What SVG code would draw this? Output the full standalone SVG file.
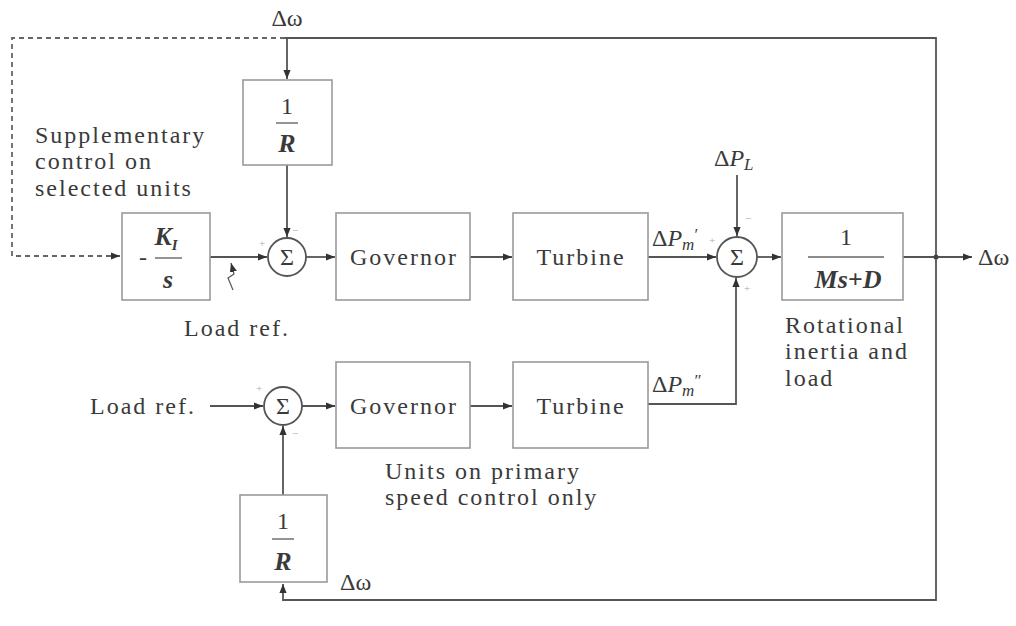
<svg xmlns="http://www.w3.org/2000/svg" width="1016" height="626" viewBox="0 0 1016 626">
<defs>
<marker id="ar" viewBox="0 0 10 10" refX="10" refY="5" markerWidth="9" markerHeight="9" markerUnits="userSpaceOnUse" orient="auto">
<path d="M0,1 L10,5 L0,9 z" fill="#333"/>
</marker>
</defs>
<style>
text{font-family:"Liberation Serif","Times New Roman",serif;fill:#3a3a3a;font-size:24px}
.w{letter-spacing:2px}
.box{fill:#fff;stroke:#9a9a9a;stroke-width:1.6}
.sum{fill:#fff;stroke:#555;stroke-width:1.8}
.ln{fill:none;stroke:#555;stroke-width:1.8}
.dash{fill:none;stroke:#666;stroke-width:1.8;stroke-dasharray:5,4}
.c{text-anchor:middle}
.it{font-style:italic;font-weight:bold;font-size:26px}
.sg{font-size:11px;fill:#aaa}
.fr{stroke:#666;stroke-width:1.4}
</style>
<rect width="1016" height="626" fill="#fff"/>

<g id="connectors">
<path class="dash" d="M285,38 H12 V256 H120" marker-end="url(#ar)"/>
<path class="ln" d="M285,38 H936 V600 H283 V584" marker-end="url(#ar)"/>
<path class="ln" d="M287,38 V79" marker-end="url(#ar)"/>
<path class="ln" d="M287,165 V237" marker-end="url(#ar)"/>
<path class="ln" d="M210,257 H267" marker-end="url(#ar)"/>
<path class="ln" d="M233,290 L228,278 L234,274 L231,263" marker-end="url(#ar)" style="stroke-width:1.2"/>
<path class="ln" d="M306,257 H335" marker-end="url(#ar)"/>
<path class="ln" d="M470,257 H512" marker-end="url(#ar)"/>
<path class="ln" d="M648,257 H716" marker-end="url(#ar)"/>
<path class="ln" d="M737,175 V236" marker-end="url(#ar)"/>
<path class="ln" d="M757,257 H781" marker-end="url(#ar)"/>
<path class="ln" d="M903,257 H972" marker-end="url(#ar)"/>
<circle cx="936" cy="257" r="2.5" fill="#444"/>
<path class="ln" d="M648,404 H736 V278" marker-end="url(#ar)"/>
<path class="ln" d="M210,406 H263" marker-end="url(#ar)"/>
<path class="ln" d="M302,406 H335" marker-end="url(#ar)"/>
<path class="ln" d="M470,406 H512" marker-end="url(#ar)"/>
<path class="ln" d="M283,495 V426" marker-end="url(#ar)"/>
</g>

<g id="lbl-dw-top"><text x="287" y="26" class="c" font-size="25">Δω</text></g>
<g id="lbl-supp"><text x="35" y="143" class="w">Supplementary</text><text x="35" y="169" class="w">control on</text><text x="35" y="196" class="w">selected units</text></g>

<g id="R1"><rect class="box" x="243" y="80" width="89" height="85"/>
<text x="287" y="114" class="c" font-size="26">1</text><line class="fr" x1="276" y1="123" x2="298" y2="123"/><text x="287" y="152" class="c it">R</text></g>

<g id="KI"><rect class="box" x="122" y="213" width="88" height="87"/>
<text x="166" y="245" class="c it">K<tspan font-size="15" dy="5">I</tspan></text>
<line class="fr" x1="155" y1="258" x2="182" y2="258"/><text x="143" y="265" class="c">-</text>
<text x="168" y="288" class="c it">s</text></g>

<g id="sum1"><circle class="sum" cx="287" cy="257" r="19"/><text x="287" y="265" class="c">Σ</text>
<text x="259" y="247" class="sg">+</text><text x="292" y="234" class="sg">−</text></g>

<g id="loadref1"><text x="184" y="336" class="w">Load ref.</text></g>

<g id="gov1"><rect class="box" x="336" y="213" width="134" height="87"/><text x="404" y="265" class="c w">Governor</text></g>
<g id="tur1"><rect class="box" x="513" y="213" width="135" height="87"/><text x="581" y="265" class="c w">Turbine</text></g>

<g id="lbl-pm1"><text x="652" y="246" font-size="25">Δ<tspan font-style="italic">P</tspan><tspan font-style="italic" font-size="17" dy="4">m</tspan><tspan font-size="17" dy="-10">′</tspan></text></g>
<g id="lbl-pl"><text x="714" y="166" font-size="25">Δ<tspan font-style="italic">P</tspan><tspan font-style="italic" font-size="17" dy="4">L</tspan></text></g>

<g id="sum2"><circle class="sum" cx="737" cy="257" r="20"/><text x="737" y="265" class="c">Σ</text>
<text x="745" y="222" class="sg">−</text><text x="709" y="244" class="sg">+</text><text x="744" y="292" class="sg">+</text></g>

<g id="plant"><rect class="box" x="782" y="213" width="121" height="87"/>
<text x="846" y="245" class="c" font-size="26">1</text><line class="fr" x1="808" y1="257" x2="884" y2="257"/>
<text x="848" y="288" class="c it" font-size="27">Ms+D</text></g>

<g id="lbl-dw-out"><text x="978" y="265" font-size="25">Δω</text></g>
<g id="lbl-rot"><text x="785" y="333" class="w">Rotational</text><text x="785" y="359" class="w">inertia and</text><text x="785" y="386" class="w">load</text></g>

<g id="loadref2"><text x="90" y="414" class="w">Load ref.</text></g>
<g id="sum3"><circle class="sum" cx="283" cy="406" r="19"/><text x="283" y="414" class="c">Σ</text>
<text x="256" y="392" class="sg">+</text><text x="292" y="437" class="sg">−</text></g>

<g id="gov2"><rect class="box" x="336" y="362" width="134" height="86"/><text x="404" y="414" class="c w">Governor</text></g>
<g id="tur2"><rect class="box" x="513" y="362" width="135" height="86"/><text x="581" y="414" class="c w">Turbine</text></g>
<g id="lbl-pm2"><text x="652" y="392" font-size="25">Δ<tspan font-style="italic">P</tspan><tspan font-style="italic" font-size="17" dy="4">m</tspan><tspan font-size="17" dy="-10">″</tspan></text></g>

<g id="lbl-units"><text x="385" y="479" class="w">Units on primary</text><text x="385" y="505" class="w">speed control only</text></g>

<g id="R2"><rect class="box" x="240" y="495" width="87" height="87"/>
<text x="283" y="529" class="c" font-size="26">1</text><line class="fr" x1="272" y1="539" x2="294" y2="539"/><text x="283" y="570" class="c it">R</text></g>

<g id="lbl-dw-bot"><text x="340" y="590" font-size="25">Δω</text></g>
</svg>
